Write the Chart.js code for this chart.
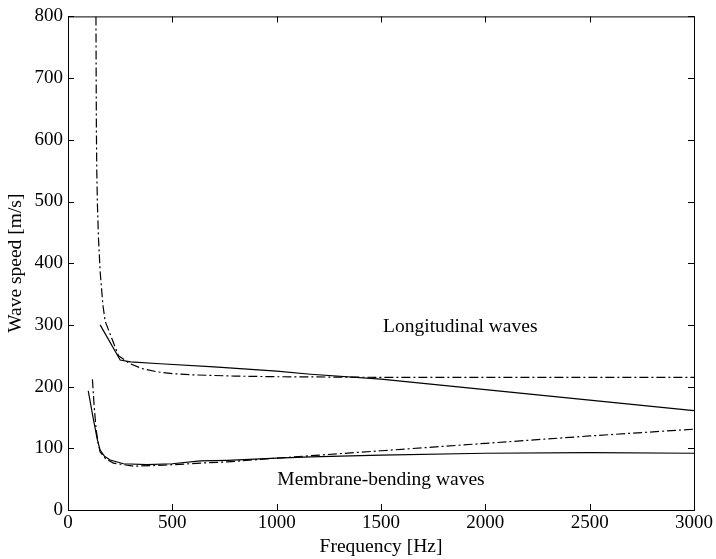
<!DOCTYPE html>
<html>
<head>
<meta charset="utf-8">
<script src="https://cdn.jsdelivr.net/npm/chart.js@4"></script>
<style>
  html, body { margin: 0; padding: 0; background: #fff; }
  #wrap { width: 716px; height: 559px; }
</style>
</head>
<body>
<div id="wrap"><canvas id="speedChart" width="716" height="559"></canvas></div>
<script>
// Longitudinal waves
const longSolidHz    = [154, 250, 300, 442, 700, 1000, 1163, 1500, 2000, 2500, 3000];
const longSolidSpeed = [300, 243, 240, 237, 232, 225, 220, 212, 195, 178, 161];
const longDashHz     = [134, 135, 136, 138, 141, 146, 154, 167, 178, 210, 242, 298, 357, 426, 500, 600, 800, 1000, 1500, 3000];
const longDashSpeed  = [800, 700, 620, 548, 495, 441, 387, 333, 306, 278, 250, 237, 229, 224, 221, 219, 217, 216, 215, 215];

// Membrane-bending waves
const bendSolidHz    = [97, 120, 140, 154, 175, 202, 266, 378, 500, 634, 764, 1000, 1163, 1500, 2000, 2500, 3000];
const bendSolidSpeed = [193, 150, 115, 97, 87, 81, 75, 73.6, 75, 79.5, 80.5, 84, 86, 89, 92, 93, 92];
const bendDashHz     = [117, 125, 135, 145, 154, 180, 218, 314, 458, 634, 764, 1000, 1163, 1500, 2000, 2500, 3000];
const bendDashSpeed  = [212, 170, 130, 108, 94, 83, 76, 71, 72.6, 76, 78, 84, 88, 96, 108, 120, 131];

const xTicks = [0, 500, 1000, 1500, 2000, 2500, 3000];
const yTicks = [0, 100, 200, 300, 400, 500, 600, 700, 800];

const annotations = [
  { text: 'Longitudinal waves', x: 1880, y: 297 },
  { text: 'Membrane-bending waves', x: 1500, y: 49 }
];

const FONT = "'Liberation Serif', 'Times New Roman', serif";

function toPoints(xs, ys) {
  return xs.map((x, i) => ({ x: x, y: ys[i] }));
}

// Draw the MATLAB-like frame, inward ticks and the text labels
const framePlugin = {
  id: 'frame',
  afterDatasetsDraw(chart) {
    const { ctx, chartArea: a, scales } = chart;
    ctx.save();
    ctx.strokeStyle = '#000';
    ctx.lineWidth = 1;
    ctx.strokeRect(a.left + 0.5, a.top + 0.5, a.right - a.left, a.bottom - a.top);
    const len = 6;
    ctx.beginPath();
    xTicks.forEach(v => {
      const px = Math.round(scales.x.getPixelForValue(v)) + 0.5;
      ctx.moveTo(px, a.bottom); ctx.lineTo(px, a.bottom - len);
      ctx.moveTo(px, a.top); ctx.lineTo(px, a.top + len);
    });
    yTicks.forEach(v => {
      const py = Math.round(scales.y.getPixelForValue(v)) + 0.5;
      ctx.moveTo(a.left, py); ctx.lineTo(a.left + len, py);
      ctx.moveTo(a.right, py); ctx.lineTo(a.right - len, py);
    });
    ctx.stroke();

    ctx.fillStyle = '#000';
    ctx.font = '19.5px ' + FONT;
    ctx.textAlign = 'center';
    ctx.textBaseline = 'middle';
    annotations.forEach(t => {
      ctx.fillText(t.text, scales.x.getPixelForValue(t.x), scales.y.getPixelForValue(t.y));
    });
    ctx.restore();
  }
};

const lineStyle = {
  borderColor: '#000',
  borderWidth: 1.2,
  pointRadius: 0,
  tension: 0,
  fill: false
};

new Chart(document.getElementById('speedChart').getContext('2d'), {
  type: 'line',
  data: {
    datasets: [
      { ...lineStyle, label: 'Longitudinal (solid)', data: toPoints(longSolidHz, longSolidSpeed) },
      { ...lineStyle, label: 'Longitudinal (dash-dot)', data: toPoints(longDashHz, longDashSpeed), borderDash: [9, 3, 2, 3] },
      { ...lineStyle, label: 'Bending (solid)', data: toPoints(bendSolidHz, bendSolidSpeed) },
      { ...lineStyle, label: 'Bending (dash-dot)', data: toPoints(bendDashHz, bendDashSpeed), borderDash: [9, 3, 2, 3] }
    ]
  },
  options: {
    responsive: false,
    animation: false,
    layout: { padding: { top: 13, right: 22, left: 0, bottom: 0 } },
    plugins: { legend: { display: false }, tooltip: { enabled: false } },
    scales: {
      x: {
        type: 'linear',
        min: 0,
        max: 3000,
        afterBuildTicks: scale => { scale.ticks = xTicks.map(v => ({ value: v })); },
        afterFit: scale => { scale.height = 49; },
        grid: { display: false, drawTicks: false },
        border: { display: false },
        ticks: { color: '#000', font: { family: FONT, size: 19 }, padding: 2, maxRotation: 0, callback: v => String(v) },
        title: { display: true, text: 'Frequency [Hz]', color: '#000', font: { family: FONT, size: 19.5 }, padding: { top: 0, bottom: 0 } }
      },
      y: {
        type: 'linear',
        min: 0,
        max: 800,
        afterBuildTicks: scale => { scale.ticks = yTicks.map(v => ({ value: v })); },
        afterFit: scale => { scale.width = 68; },
        grid: { display: false, drawTicks: false },
        border: { display: false },
        ticks: { color: '#000', font: { family: FONT, size: 19 }, padding: 5, callback: v => String(v) },
        title: { display: true, text: 'Wave speed [m/s]', color: '#000', font: { family: FONT, size: 19.5 }, padding: { top: 4, bottom: 0 } }
      }
    }
  },
  plugins: [framePlugin]
});
</script>
</body>
</html>
